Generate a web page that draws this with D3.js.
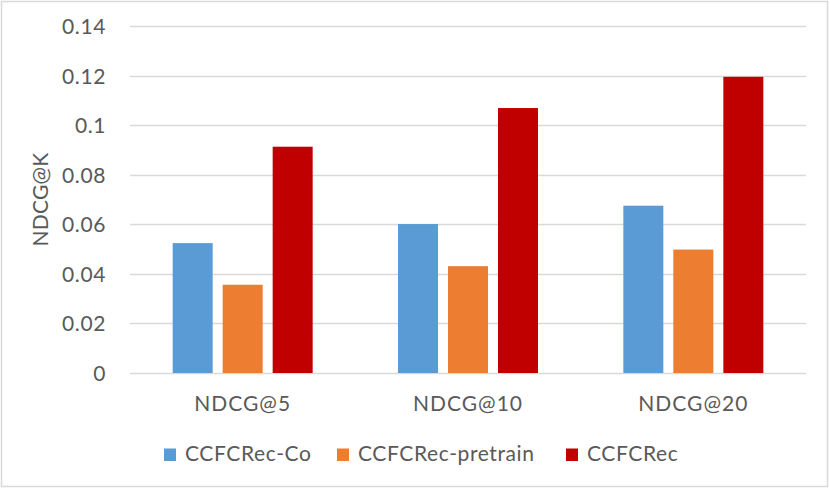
<!DOCTYPE html>
<html>
<head>
<meta charset="utf-8">
<script src="https://cdn.jsdelivr.net/npm/d3@7"></script>
<style>
  body { margin: 0; background: #fff; }
  text { font-family: Lato, 'Open Sans', sans-serif; fill: #595959; }
</style>
</head>
<body>
<script>
// data
const categories = ['NDCG@5', 'NDCG@10', 'NDCG@20']
const series = ['CCFCRec-Co', 'CCFCRec-pretrain', 'CCFCRec']
const coValues = [0.0524, 0.0601, 0.0675]
const pretrainValues = [0.0356, 0.0431, 0.0498]
const ccfcValues = [0.0913, 0.1069, 0.1195]
const yTicks = [0, 0.02, 0.04, 0.06, 0.08, 0.1, 0.12, 0.14]
const colors = ['#5B9BD5', '#ED7D31', '#C00000']

var width = 830
var height = 489
var margin = {left: 130, right: 24, top: 26, bottom: 116}

var svg = d3.select('body').append('svg')
    .attr('width', width)
    .attr('height', height)

// chart border
svg.append('rect')
    .attr('x', 1.5).attr('y', 1.5)
    .attr('width', width - 4).attr('height', height - 4)
    .attr('fill', '#fff')
    .attr('stroke', '#D9D9D9')
    .attr('stroke-width', 1.5)

var x0 = d3.scaleBand()
    .domain(categories)
    .range([margin.left, width - margin.right])

var groupWidth = 140
var x1 = d3.scaleBand()
    .domain(series)
    .range([0, groupWidth])
    .paddingInner(0.2)

var y = d3.scaleLinear()
    .domain([0, 0.14])
    .range([height - margin.bottom, margin.top])

// gridlines
svg.append('g')
  .selectAll('line')
  .data(yTicks).enter()
  .append('line')
    .attr('x1', margin.left)
    .attr('x2', width - margin.right)
    .attr('y1', d => Math.round(y(d)) + 0.5)
    .attr('y2', d => Math.round(y(d)) + 0.5)
    .attr('stroke', '#D9D9D9')
    .attr('stroke-width', 1.5)

// y tick labels
var yAxis = svg.append('g')
    .attr('transform', 'translate(' + (margin.left - 24) + ',0)')
    .call(d3.axisLeft(y).tickValues(yTicks).tickSize(0).tickFormat(d => String(+d.toFixed(2))))
yAxis.select('.domain').remove()
yAxis.selectAll('text')
    .attr('x', 0)
    .attr('dy', '0.36em')
    .style('font-size', '21px')
    .style('letter-spacing', '0.6px')
    .attr('fill', '#595959')
    .attr('font-family', null)

// bars
const rows = categories.map((c, i) => ({
  cat: c,
  vals: [coValues[i], pretrainValues[i], ccfcValues[i]]
}))

var groups = svg.selectAll('g.group')
    .data(rows).enter()
    .append('g')
    .attr('class', 'group')
    .attr('transform', d => 'translate(' + (x0(d.cat) + (x0.bandwidth() - groupWidth) / 2) + ',0)')

groups.selectAll('rect')
    .data(d => d.vals.map((v, j) => ({key: series[j], v: v, j: j})))
    .enter()
    .append('rect')
    .attr('x', d => x1(d.key))
    .attr('width', x1.bandwidth())
    .attr('y', d => y(d.v))
    .attr('height', d => y(0) - y(d.v))
    .attr('fill', d => colors[d.j])

// x category labels
var xAxis = svg.append('g')
    .attr('transform', 'translate(0,' + (height - margin.bottom) + ')')
    .call(d3.axisBottom(x0).tickSize(0))
xAxis.select('.domain').remove()
xAxis.selectAll('text')
    .attr('y', 38)
    .attr('dy', 0)
    .style('font-size', '21px')
    .style('letter-spacing', '1px')
    .attr('fill', '#595959')
    .attr('font-family', null)

// axis title
svg.append('text')
    .attr('transform', 'translate(48,' + ((y(0) + y(0.14)) / 2) + ') rotate(-90)')
    .attr('text-anchor', 'middle')
    .style('font-size', '21px')
    .style('letter-spacing', '0.2px')
    .text('NDCG@K')

// legend
const legendX = [164, 337, 566]
var legend = svg.selectAll('g.legend')
    .data(series).enter()
    .append('g')
    .attr('class', 'legend')
    .attr('transform', (d, i) => 'translate(' + legendX[i] + ',461)')

legend.append('rect')
    .attr('x', 0)
    .attr('y', -12.5)
    .attr('width', 12)
    .attr('height', 12.5)
    .attr('fill', (d, i) => colors[i])

legend.append('text')
    .attr('x', 21)
    .attr('y', 0)
    .style('font-size', '21px')
    .style('letter-spacing', '0.6px')
    .text(d => d)
</script>
</body>
</html>
